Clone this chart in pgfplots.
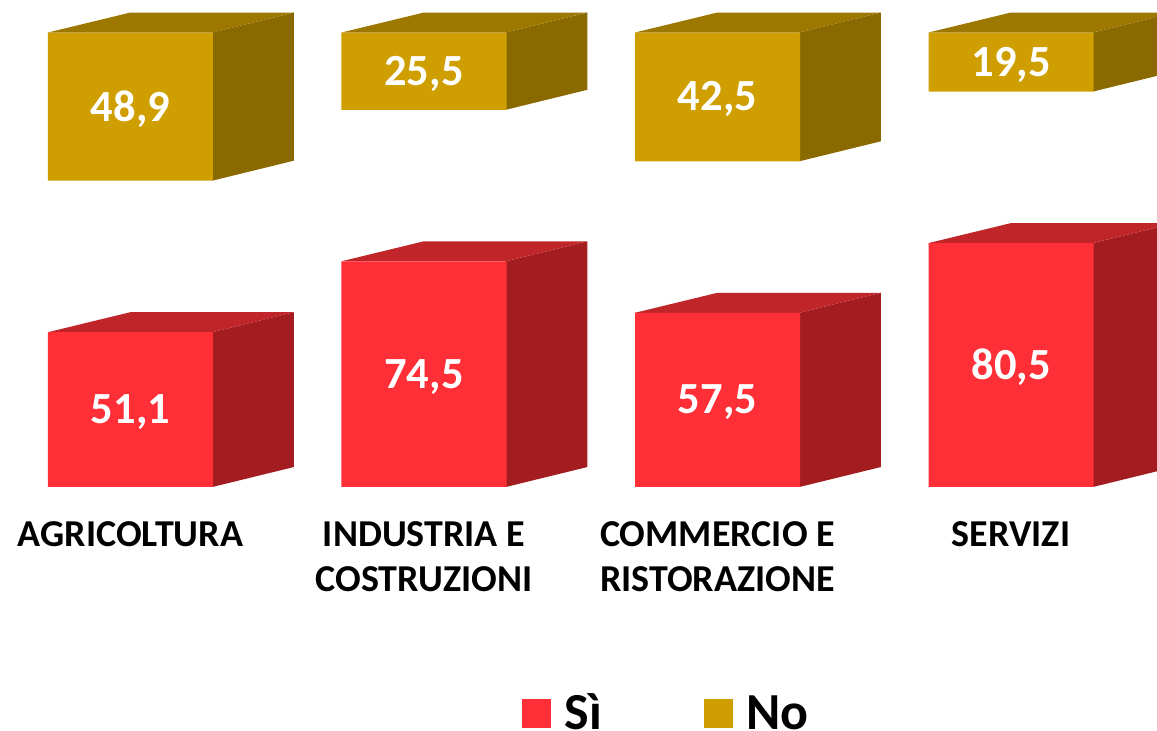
\documentclass[border=0pt]{standalone}
\usepackage{pgfplots}
\usepackage{fontspec}
\setmainfont{Carlito}
\pgfplotsset{compat=1.18}
\definecolor{siF}{HTML}{FF2F38}
\definecolor{siS}{HTML}{A31D20}
\definecolor{siT}{HTML}{C0252A}
\definecolor{noF}{HTML}{CF9E00}
\definecolor{noS}{HTML}{8A6900}
\definecolor{noT}{HTML}{9D7800}
\pgfplotsset{base/.style={
  scale only axis, width=1157pt, height=731pt,
  xmin=-0.4446, xmax=3.4974, ymin=-80.53, ymax=160.73,
  hide axis, clip=true}}
\begin{document}
\begin{tikzpicture}
\path[use as bounding box] (0,0) rectangle (1157pt,731pt);
% side and top faces
\begin{axis}[base]
\addplot[fill=siS,draw=none] coordinates {(0.279,0) (0.557,6.6) (0.557,57.7) (0.279,51.1)} -- cycle;
\addplot[fill=siT,draw=none] coordinates {(-0.281,51.1) (0.279,51.1) (0.557,57.7) (0,57.7)} -- cycle;
\addplot[fill=siS,draw=none] coordinates {(1.279,0) (1.557,6.6) (1.557,81.1) (1.279,74.5)} -- cycle;
\addplot[fill=siT,draw=none] coordinates {(0.719,74.5) (1.279,74.5) (1.557,81.1) (1,81.1)} -- cycle;
\addplot[fill=siS,draw=none] coordinates {(2.279,0) (2.557,6.6) (2.557,64.1) (2.279,57.5)} -- cycle;
\addplot[fill=siT,draw=none] coordinates {(1.719,57.5) (2.279,57.5) (2.557,64.1) (2,64.1)} -- cycle;
\addplot[fill=siS,draw=none] coordinates {(3.279,0) (3.557,6.6) (3.557,87.1) (3.279,80.5)} -- cycle;
\addplot[fill=siT,draw=none] coordinates {(2.719,80.5) (3.279,80.5) (3.557,87.1) (3,87.1)} -- cycle;
\addplot[fill=noS,draw=none] coordinates {(0.279,101.1) (0.557,107.7) (0.557,156.6) (0.279,150)} -- cycle;
\addplot[fill=noT,draw=none] coordinates {(-0.281,150) (0.279,150) (0.557,156.6) (0,156.6)} -- cycle;
\addplot[fill=noS,draw=none] coordinates {(1.279,124.5) (1.557,131.1) (1.557,156.6) (1.279,150)} -- cycle;
\addplot[fill=noT,draw=none] coordinates {(0.719,150) (1.279,150) (1.557,156.6) (1,156.6)} -- cycle;
\addplot[fill=noS,draw=none] coordinates {(2.279,107.5) (2.557,114.1) (2.557,156.6) (2.279,150)} -- cycle;
\addplot[fill=noT,draw=none] coordinates {(1.719,150) (2.279,150) (2.557,156.6) (2,156.6)} -- cycle;
\addplot[fill=noS,draw=none] coordinates {(3.279,130.5) (3.557,137.1) (3.557,156.6) (3.279,150)} -- cycle;
\addplot[fill=noT,draw=none] coordinates {(2.719,150) (3.279,150) (3.557,156.6) (3,156.6)} -- cycle;
\end{axis}
% front faces
\begin{axis}[base, ybar stacked, bar width=165pt]
\addplot[fill=siF,draw=none] coordinates {(0,51.1) (1,74.5) (2,57.5) (3,80.5)};
\addplot[fill=none,draw=none] coordinates {(0,50) (1,50) (2,50) (3,50)};
\addplot[fill=noF,draw=none] coordinates {(0,48.9) (1,25.5) (2,42.5) (3,19.5)};
\end{axis}
% labels and legend
\begin{axis}[base,
  /pgf/number format/assume math mode=true,
  /pgf/number format/use comma,
  /pgf/number format/fixed,
  /pgf/number format/fixed zerofill,
  /pgf/number format/precision=1,
  legend columns=2,
  legend style={draw=none, fill=none, inner sep=0pt, outer sep=0pt,
    at={(rel axis cs:0.4512,0.0014)}, anchor=south west,
    font=\fontsize{52}{52}\selectfont\bfseries,
    /tikz/every even column/.append style={column sep=102pt},
    nodes={inner sep=0pt, anchor=base west, text depth=0pt},
  },
  legend image code/.code={\fill[#1] (0pt,3pt) rectangle (28pt,31pt);},
  legend cell align=left,
]
\addlegendimage{siF}
\addlegendentry{\hspace{14pt}Sì}
\addlegendimage{noF}
\addlegendentry{\hspace{14pt}No}
\addplot[draw=none, mark=none, forget plot, point meta=explicit,
  nodes near coords, nodes near coords align={center},
  every node near coord/.append style={text=white, inner sep=0pt, yshift=-2.5pt,
    font=\fontsize{44.5}{44.5}\selectfont\bfseries}]
  table[meta=v] {
x y v
0 25.55 51.1
1 37.25 74.5
2 28.75 57.5
3 40.25 80.5
0 125.55 48.9
1 137.25 25.5
2 128.75 42.5
3 140.25 19.5
};
\path[every node/.style={font=\fontsize{38}{45}\selectfont\bfseries, align=center, anchor=north, inner sep=0pt, text=black}]
  (axis cs:0,-11.2) node {AGRICOLTURA}
  (axis cs:1,-11.2) node {INDUSTRIA E\\COSTRUZIONI}
  (axis cs:2,-11.2) node {COMMERCIO E\\RISTORAZIONE}
  (axis cs:3,-11.2) node {SERVIZI};
\end{axis}
\end{tikzpicture}
\end{document}
